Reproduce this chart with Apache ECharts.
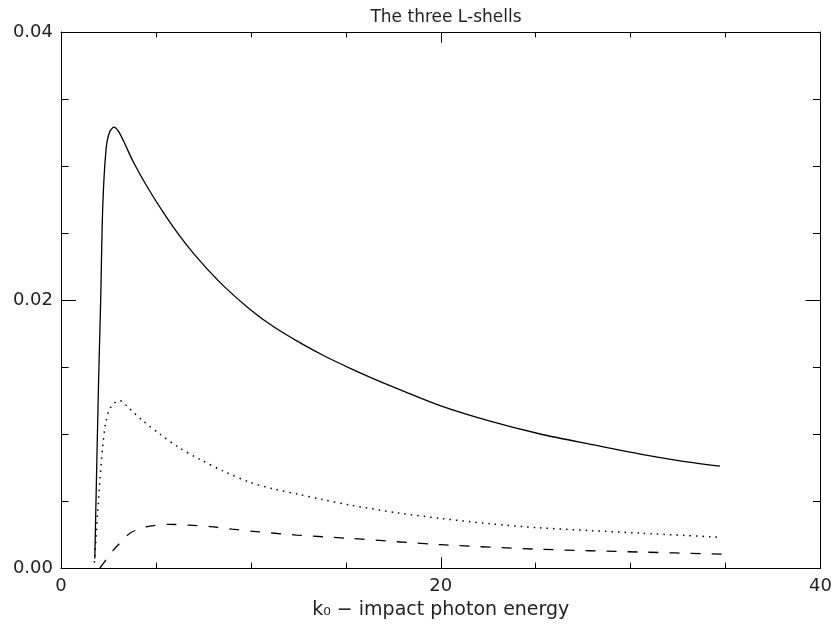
<!DOCTYPE html>
<html>
<head>
<meta charset="utf-8">
<script src="https://cdn.jsdelivr.net/npm/echarts@6/dist/echarts.min.js"></script>
<style>
html,body{margin:0;padding:0;background:#fff;}
#chart{width:835px;height:626px;}
</style>
</head>
<body>
<div id="chart"></div>
<script>
// ---- data ----
var titleText = "The three L-shells";
var xAxisName = "k\u2080 \u2212 impact photon energy";
var xTickLabels = [0, 20, 40];
var yTickLabels = ["0.00", "0.02", "0.04"];

var solidX = [1.78, 1.98, 2.09, 2.2, 2.37, 2.55, 2.79, 3.02, 3.28, 3.81, 4.6, 5.5, 6.3, 7.33, 8.6, 9.96, 11.2, 12.6, 13.9, 15.23, 16.5, 17.87, 20.0, 22.5, 25.24, 28.0, 30.51, 32.6, 34.7];
var solidY = [0.0007, 0.0140, 0.0200, 0.0270, 0.0312, 0.0325, 0.0329, 0.0326, 0.0319, 0.0303, 0.0283, 0.0263, 0.0247, 0.0229, 0.0210, 0.0193, 0.0180, 0.0168, 0.0158, 0.0149, 0.0141, 0.0133, 0.0121, 0.0110, 0.0100, 0.0092, 0.0085, 0.0080, 0.0076];

var dotX = [1.76, 1.93, 2.05, 2.19, 2.35, 2.54, 2.8, 3.07, 3.6, 4.3, 5.2, 6.2, 7.32, 8.6, 9.95, 11.2, 12.5, 13.8, 15.2, 17.8, 20.0, 22.6, 25.2, 27.8, 30.5, 34.7];
var dotY = [0.0004, 0.0041, 0.0066, 0.0090, 0.0108, 0.0118, 0.0123, 0.0125, 0.0119, 0.0110, 0.0100, 0.0090, 0.0081, 0.0072, 0.0064, 0.0059, 0.0055, 0.0051, 0.0047, 0.0041, 0.0037, 0.0033, 0.0030, 0.0028, 0.0026, 0.0023];

var dashX = [2.05, 2.37, 2.76, 3.2, 3.63, 4.1, 4.6, 5.7, 6.7, 7.85, 9.0, 10.1, 12.4, 15.2, 20.0, 25.2, 30.5, 34.85];
var dashY = [0.0, 0.0006, 0.00134, 0.0020, 0.0026, 0.0029, 0.0031, 0.00326, 0.0032, 0.00309, 0.00290, 0.00274, 0.00246, 0.00221, 0.00174, 0.0014, 0.00119, 0.00104];

function pairs(xs, ys) { return xs.map(function (x, i) { return [x, ys[i]]; }); }

var FONT = "DejaVu Sans";
var chart = echarts.init(document.getElementById('chart'), null, { renderer: 'canvas' });

function xAx(pos, showLabel) {
  return {
    type: 'value', position: pos, min: 0, max: 40, interval: 20,
    name: showLabel ? xAxisName : '', nameLocation: 'middle', nameGap: 33,
    nameTextStyle: { fontFamily: FONT, fontSize: 19, color: '#222' },
    axisLine: { show: true, onZero: false, lineStyle: { color: '#000', width: 1 } },
    axisTick: { show: true, inside: true, length: 10.7, lineStyle: { color: '#000' } },
    minorTick: { show: true, splitNumber: 4, length: 5.4, lineStyle: { color: '#000' } },
    splitLine: { show: false }, minorSplitLine: { show: false },
    axisLabel: { show: showLabel, margin: 9, fontFamily: FONT, fontSize: 18, color: '#222',
      formatter: function (v) { return xTickLabels.indexOf(v) >= 0 ? String(v) : ''; } }
  };
}
function yAx(pos, showLabel) {
  return {
    type: 'value', position: pos, min: 0, max: 0.04, interval: 0.02,
    axisLine: { show: true, onZero: false, lineStyle: { color: '#000', width: 1 } },
    axisTick: { show: true, inside: true, length: 15, lineStyle: { color: '#000' } },
    minorTick: { show: true, splitNumber: 4, length: 7.6, lineStyle: { color: '#000' } },
    splitLine: { show: false }, minorSplitLine: { show: false },
    axisLabel: { show: showLabel, margin: 8, fontFamily: FONT, fontSize: 18, color: '#222',
      formatter: function (v) { return yTickLabels[Math.round(v / 0.02)] || ''; } }
  };
}

function lineSeries(data, type, width) {
  return {
    type: 'line', data: data, xAxisIndex: 0, yAxisIndex: 0,
    showSymbol: false, smooth: 0.3, animation: false,
    lineStyle: { color: '#000', width: width, type: type }
  };
}

chart.setOption({
  animation: false,
  backgroundColor: '#fff',
  title: { text: titleText, left: 441, top: 4, textAlign: 'center',
    textStyle: { fontFamily: FONT, fontSize: 17, fontWeight: 'normal', color: '#222' } },
  grid: { left: 61, right: 14, top: 32, bottom: 58, containLabel: false },
  xAxis: [xAx('bottom', true), xAx('top', false)],
  yAxis: [yAx('left', true), yAx('right', false)],
  series: [
    lineSeries(pairs(solidX, solidY), 'solid', 1.3),
    lineSeries(pairs(dotX, dotY), [1.5, 5], 1.5),
    lineSeries(pairs(dashX, dashY), [10, 11], 1.3)
  ]
});
</script>
</body>
</html>
